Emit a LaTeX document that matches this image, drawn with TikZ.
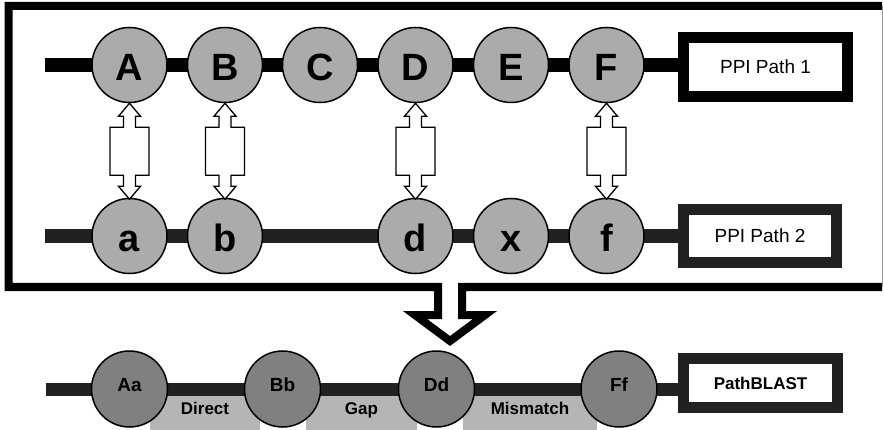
\documentclass[tikz,border=0pt]{standalone}
\usepackage{fontspec}
\setmainfont{Liberation Sans}
\usetikzlibrary{calc, backgrounds}
\definecolor{protfill}{gray}{0.67}
\definecolor{alignfill}{gray}{0.5}
\definecolor{scorefill}{gray}{0.71}
\definecolor{darkline}{gray}{0.13}
\def\rowone{65}
\def\rowtwo{236}
\def\rowthree{389}

\tikzset{
  prot/.style={circle, draw, line width=1.5pt, fill=protfill, minimum size=75pt,
    inner sep=0pt, text height=32pt, text depth=0pt,
    font=\fontsize{38}{38}\selectfont\bfseries},
  merged/.style={circle, draw, line width=1.5pt, fill=alignfill, minimum size=76pt,
    inner sep=0pt, text height=12pt, text depth=8pt,
    font=\fontsize{19}{19}\selectfont\bfseries},
  pathbox/.style={draw, fill=white, line width=11pt, inner sep=0pt,
    font=\fontsize{19}{19}\selectfont},
  scorebox/.style={fill=scorefill, anchor=north, inner sep=0pt, minimum height=0pt,
    text height=18pt, text depth=20pt, font=\fontsize{17}{17}\selectfont\bfseries},
  chain/.style={line width=14pt},
  frameline/.style={line width=8pt, miter limit=20},
  pairarrow/.style={draw, fill=white, line width=1.3pt},
}

% hollow double arrow hanging below a protein of path 1
\newcommand\pairlink[1]{
  \begin{scope}[shift={(#1.south)}]
    \draw[pairarrow] (0,0) -- (11,13) -- (6,13) -- (6,24) -- (19.5,24) -- (19.5,72)
      -- (6,72) -- (6,83) -- (11,83) -- (0,96) -- (-11,83) -- (-6,83) -- (-6,72)
      -- (-19.5,72) -- (-19.5,24) -- (-6,24) -- (-6,13) -- (-11,13) -- cycle;
  \end{scope}
}

\begin{document}
\begin{tikzpicture}[x=1pt, y=-1pt]
  \useasboundingbox (0,0) rectangle (883,430);

  % PPI path 1
  \node[prot] (A) at (129.5,\rowone) {A};
  \node[prot] (B) at (225,\rowone) {B};
  \node[prot] (C) at (320,\rowone) {C};
  \node[prot] (D) at (415.5,\rowone) {D};
  \node[prot] (E) at (511,\rowone) {E};
  \node[prot] (F) at (606.5,\rowone) {F};
  \node[pathbox, minimum width=164pt, minimum height=59pt] (ppi1) at (765.5,67) {PPI Path 1};
  \coordinate (start1) at (45,\rowone);

  % PPI path 2
  \node[prot] (a) at (129.5,\rowtwo) {a};
  \node[prot] (b) at (225,\rowtwo) {b};
  \node[prot] (d) at (415.5,\rowtwo) {d};
  \node[prot] (x) at (511,\rowtwo) {x};
  \node[prot] (f) at (606.5,\rowtwo) {f};
  \node[pathbox, draw=darkline, line width=10.5pt, minimum width=153pt, minimum height=53pt] (ppi2) at (760,236) {PPI Path 2};
  \coordinate (start2) at (45,\rowtwo);

  % PathBLAST alignment
  \node[merged] (Aa) at (129.5,\rowthree) {Aa};
  \node[merged] (Bb) at (282.5,\rowthree) {Bb};
  \node[merged] (Dd) at (436.5,\rowthree) {Dd};
  \node[merged] (Ff) at (619,\rowthree) {Ff};
  \node[pathbox, draw=darkline, minimum width=154pt, minimum height=49pt,
    font=\fontsize{17}{17}\selectfont\bfseries] (blast) at (760.5,383) {PathBLAST};
  \coordinate (start3) at (46,\rowthree);

  \begin{scope}[on background layer]
    \node[scorebox, minimum width=110pt] (direct) at (205,396) {Direct};
    \node[scorebox, minimum width=111pt] (gap) at (361.5,396) {Gap};
    \node[scorebox, minimum width=134pt] (mismatch) at (530,396) {Mismatch};
    \draw[chain] (start1) -- (start1 -| ppi1.west);
    \draw[chain, darkline] (start2) -- (start2 -| ppi2.west);
    \draw[chain, darkline, line width=13pt] (start3) -- (start3 -| blast.west);
  \end{scope}

  \pairlink{A}
  \pairlink{B}
  \pairlink{D}
  \pairlink{F}

  % frame with the hollow arrow down to the alignment
  \draw[frameline] (882,6) -- (8.5,6) -- (8.5,287) -- (438,287) -- (438,315)
    -- (415,315) -- (450,341) -- (485,315) -- (462,315) -- (462,287) -- (882,287);
  \draw[black!40, line width=1pt] (882,6) -- (882,287);
\end{tikzpicture}
\end{document}
